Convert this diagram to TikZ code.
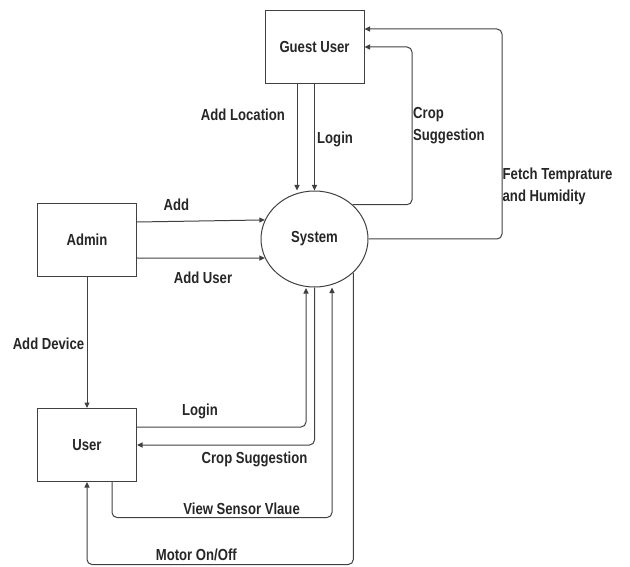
\documentclass[tikz,border=0pt]{standalone}
\usepackage{fontspec}
\setmainfont{Liberation Sans}[FakeStretch=0.82]
\usetikzlibrary{arrows.meta,shapes.geometric,calc}
\begin{document}
\begin{tikzpicture}[x=1pt,y=-1pt,
  every node/.style={font=\fontsize{16}{22}\selectfont\bfseries, text=black!85, inner sep=0pt},
  line/.style={draw=black!75, line width=1pt},
  arr/.style={line, -{Triangle[length=5.5pt,width=5pt]}, rounded corners=5pt},
  box/.style={line, rectangle, minimum width=99pt, minimum height=73pt},
  lbl/.style={align=left},
]
\useasboundingbox (0,0) rectangle (630,567);
% nodes
\node[box] (guest) at (314.5,47) {Guest User};
\node[box] (admin) at (87,240) {Admin};
\node[box] (user)  at (87,445) {User};
\node[line, ellipse, minimum width=107pt, minimum height=96pt] (system) at (314.5,239) {System};
% bend coordinates
\coordinate (cg) at (412,47);
\coordinate (fb) at (502,29);
\coordinate (lg) at (306,288);
\coordinate (vs) at (332,517.5);
\coordinate (mc) at (87,564.5);
% guest -> system
\draw[arr] ([xshift=-17.5pt]guest.south) -- ([xshift=-17.5pt]guest.south |- system.north);
\draw[arr] (guest.south) -- (system.north);
% system -> guest
\draw[arr] (system.42) -| (cg) -- (guest.east);
\draw[arr] (system.east) -| (fb) -- (fb -| guest.east);
% admin -> system
\draw[arr] ([yshift=18pt]admin.east) -- (system.159);
\draw[arr] ([yshift=-18pt]admin.east) -- (system.201.5);
% admin -> user
\draw[arr] (admin.south) -- (user.north);
% user <-> system
\draw[arr] ([yshift=18pt]user.east) -| (lg);
\draw[arr] (system.south) |- (user.east);
\draw[arr] ([xshift=25pt]user.south) |- (vs) -- (vs |- system.south);
\draw[arr] (system.-41.3) |- (mc) -- (user.south);
% labels
\node[anchor=east] (lAddLoc) at (285,115) {Add Location};
\node[anchor=west] (lLoginG) at (317,139) {Login};
\node[lbl, anchor=west] (lCropG) at (413,126) {Crop\\Suggestion};
\node[lbl, anchor=west] (lFetch) at (502.5,186) {Fetch Temprature\\and Humidity};
\node (lAdd) at (176.5,205) {Add};
\node (lAddUser) at (203,277.5) {Add User};
\node (lAddDev) at (48.5,344) {Add Device};
\node (lLoginU) at (200,411) {Login};
\node (lCropU) at (254.5,459) {Crop Suggestion};
\node[anchor=east] (lView) at (300,509) {View Sensor Vlaue};
\node[anchor=east] (lMotor) at (237,555) {Motor On/Off};
\end{tikzpicture}
\end{document}
